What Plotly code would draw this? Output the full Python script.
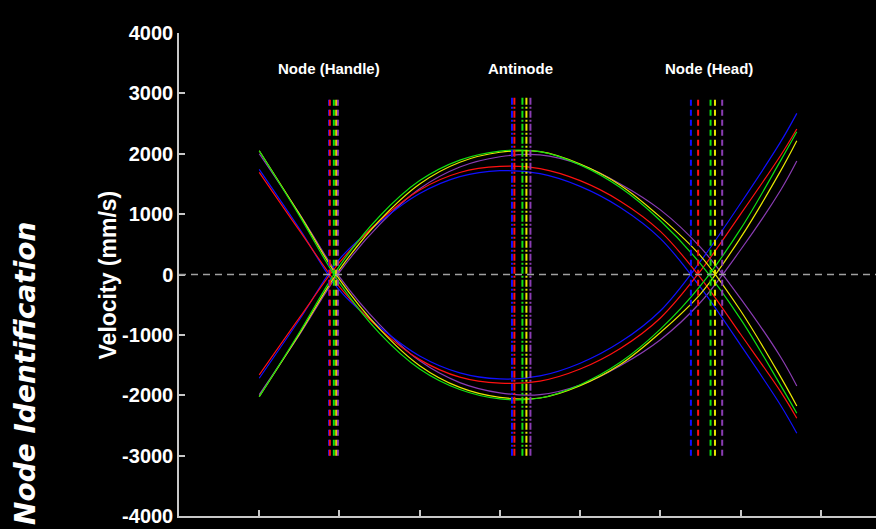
import plotly.graph_objects as go

# Position along the bat (mm)
x_pos = [0, 50, 100, 150, 200, 250, 300, 350, 400, 450, 500, 550, 600, 650, 670]

# Velocity (mm/s) for each colour, two opposite phases
green_a = [-2025, -960, 140, 965, 1555, 1895, 2045, 2035, 1815, 1440, 890, 175, -740, -1840, -2298]
green_b = [2050, 975, -140, -975, -1565, -1905, -2060, -2045, -1825, -1455, -905, -185, 755, 1890, 2364]
yellow_a = [-2023, -985, 80, 895, 1500, 1860, 2025, 2035, 1830, 1480, 950, 310, -600, -1700, -2177]
yellow_b = [2050, 1000, -80, -900, -1510, -1870, -2035, -2045, -1840, -1490, -960, -320, 610, 1720, 2215]
purple_a = [-1990, -1000, 40, 825, 1420, 1780, 1950, 1980, 1820, 1500, 1070, 450, -400, -1370, -1846]
purple_b = [2000, 1010, -40, -830, -1430, -1790, -1960, -1990, -1830, -1510, -1080, -460, 410, 1400, 1879]
red_a = [-1664, -720, 200, 890, 1400, 1690, 1790, 1755, 1555, 1215, 715, -55, -990, -1945, -2381]
red_b = [1692, 730, -205, -900, -1410, -1700, -1800, -1765, -1565, -1225, -720, 60, 1000, 1975, 2409]
blue_a = [-1719, -750, 255, 865, 1340, 1620, 1720, 1670, 1460, 1110, 595, -215, -1170, -2170, -2629]
blue_b = [1742, 760, -260, -870, -1350, -1630, -1730, -1680, -1470, -1120, -600, 220, 1180, 2200, 2669]

# Identified node / antinode positions (mm) per colour
series_names = ["blue", "red", "green", "yellow", "purple"]
node_handle = [87, 88, 93, 96, 98]
antinode = [315, 318, 328, 333, 338]
node_head = [538, 547, 562.5, 568, 577]
marker_span = [-3000, 2930]

region_labels = ["Node (Handle)", "Antinode", "Node (Head)"]
region_label_x = [87, 325, 560]
region_label_y = 3420

y_ticks = [-4000, -3000, -2000, -1000, 0, 1000, 2000, 3000, 4000]
y_tick_text = ["-4000", "-3000", "-2000", "-1000", "0", "1000", "2000", "3000", "4000"]
x_ticks = [0, 100, 200, 300, 400, 500, 600, 700]

colors = {
    "blue": "#1010ff",
    "red": "#ff1010",
    "green": "#10e010",
    "yellow": "#e8e800",
    "purple": "#8a3cb4",
}

curves = {
    "purple": (purple_a, purple_b),
    "blue": (blue_a, blue_b),
    "red": (red_a, red_b),
    "yellow": (yellow_a, yellow_b),
    "green": (green_a, green_b),
}

fig = go.Figure()

for name, (ya, yb) in curves.items():
    for yy in (ya, yb):
        fig.add_trace(go.Scatter(
            x=x_pos, y=yy, mode="lines",
            line=dict(color=colors[name], width=1.2, shape="spline", smoothing=1.0),
            showlegend=False, hoverinfo="skip"))

for positions, dash in ((node_handle, "6px,4px"), (antinode, "7px,2px,2px,2px"), (node_head, "6px,4px")):
    for name, xv in zip(series_names, positions):
        fig.add_trace(go.Scatter(
            x=[xv, xv], y=marker_span, mode="lines",
            line=dict(color=colors[name], width=2, dash=dash),
            showlegend=False, hoverinfo="skip"))

fig.add_shape(type="line", xref="paper", x0=0, x1=1, yref="y", y0=0, y1=0,
              line=dict(color="#a0a0a0", width=1.5, dash="7px,5px"))

for txt, lx in zip(region_labels, region_label_x):
    fig.add_annotation(x=lx, y=region_label_y, text=txt, showarrow=False,
                       font=dict(family="Liberation Sans, Arial", size=15, color="white", weight="bold"))

fig.add_annotation(xref="paper", yref="paper", x=-0.221, y=0.296,
                   xanchor="center", yanchor="middle",
                   text="Node Identification", showarrow=False, textangle=-90,
                   font=dict(family="DejaVu Sans", size=28, color="white", style="italic", weight="bold"))

fig.add_annotation(xref="paper", yref="paper", x=-0.1019, y=0.5,
                   xanchor="center", yanchor="middle",
                   text="Velocity (mm/s)", showarrow=False, textangle=-90,
                   font=dict(family="Liberation Sans, Arial", size=23, color="white", weight="bold"))

axis_font = dict(family="Liberation Sans, Arial", size=20, color="white", weight="bold")

fig.update_layout(
    width=876, height=529,
    margin=dict(l=179, r=0, t=33, b=13),
    paper_bgcolor="black", plot_bgcolor="black",
    xaxis=dict(range=[-100, 768.7], tickvals=x_ticks, showgrid=False, zeroline=False,
               showline=True, linecolor="#c8c8c8", linewidth=1.5, automargin=False,
               ticks="inside", ticklen=6, tickcolor="#c8c8c8", tickwidth=1.5,
               tickfont=axis_font, ticklabelstandoff=8),
    yaxis=dict(range=[-4000, 4000], tickvals=y_ticks, ticktext=y_tick_text,
               showgrid=False, zeroline=False, automargin=False,
               showline=True, linecolor="#c8c8c8", linewidth=1.5,
               ticks="inside", ticklen=6, tickcolor="#c8c8c8", tickwidth=1.5,
               tickfont=axis_font, ticklabelstandoff=0),
)

fig.write_html("out.html", config={"displayModeBar": False},
               post_script="document.body.style.margin='0';document.body.style.overflow='hidden';")
